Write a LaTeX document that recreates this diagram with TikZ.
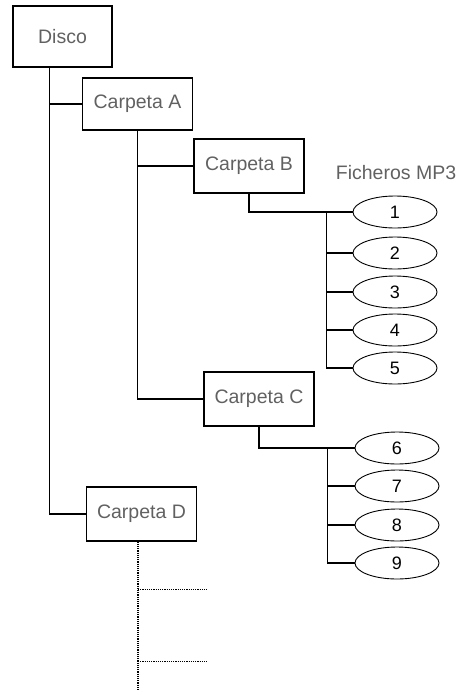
\documentclass[tikz,border=0pt]{standalone}
\usepackage{fontspec}
\setmainfont{Liberation Sans}
\usetikzlibrary{shapes.geometric}

\begin{document}
\begin{tikzpicture}[
    x=1pt, y=-1pt,
    folder/.style={draw, line width=1.3pt, minimum width=110pt, minimum height=54pt, inner sep=0pt, text=black!62, font=\fontsize{19.5}{22}\selectfont},
    mpfile/.style={draw, ellipse, line width=0.9pt, minimum width=84pt, minimum height=32pt, inner sep=0pt, font=\fontsize{18}{20}\selectfont},
    link/.style={line width=1.4pt},
    tbc/.style={line width=1.4pt, dash pattern=on 1.1pt off 1.1pt}
]
\useasboundingbox (0,0) rectangle (472,691);

\node[folder, minimum width=99pt, minimum height=61pt] (disco) at (62.5,36.5) {Disco};
\node[folder, minimum height=52pt] (carpA) at (137.5,104) {Carpeta A};
\node[folder] (carpB) at (249,166) {Carpeta B};
\node[folder] (carpC) at (259,399) {Carpeta C};
\node[folder] (carpD) at (141.5,514) {Carpeta D};

\node[text=black!62, font=\fontsize{19.5}{22}\selectfont] (mp3) at (396,173) {Ficheros MP3};

% ficheros de Carpeta B
\foreach \i/\y in {1/212, 2/253, 3/292, 4/330, 5/368}
    \node[mpfile] (f\i) at (395,\y) {\i};
% ficheros de Carpeta C
\foreach \i/\y in {6/448, 7/486, 8/525, 9/563}
    \node[mpfile] (f\i) at (397,\y) {\i};

\coordinate (dend) at (138,691);

\draw[link] ([xshift=37pt]disco.south west) |- (carpD.west);
\draw[link] ([xshift=37pt]disco.south west |- carpA.west) -- (carpA.west);
\draw[link] (carpA.south) |- (carpC.west);
\draw[link] (carpA.south |- carpB.west) -- (carpB.west);

\draw[link] (carpB.south) |- (f1.west);
\draw[link] ([xshift=-26pt]f1.west) |- (f5.west);
\foreach \i in {2,3,4}
    \draw[link] ([xshift=-26pt]f1.west |- f\i.west) -- (f\i.west);

\draw[link] (carpC.south) |- (f6.west);
\draw[link] ([xshift=-27pt]f6.west) |- (f9.west);
\foreach \i in {7,8}
    \draw[link] ([xshift=-27pt]f6.west |- f\i.west) -- (f\i.west);

\draw[tbc] ([xshift=-3.5pt]carpD.south) -- ([xshift=-3.5pt]carpD.south |- dend);
\draw[tbc] ([xshift=-3.5pt,yshift=-48pt]carpD.south) -- ++(69,0);
\draw[tbc] ([xshift=-3.5pt,yshift=-120pt]carpD.south) -- ++(69,0);
\end{tikzpicture}
\end{document}
